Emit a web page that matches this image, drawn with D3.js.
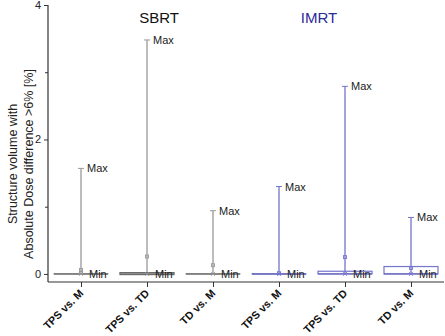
<!DOCTYPE html>
<html><head><meta charset="utf-8">
<script src="https://cdn.jsdelivr.net/npm/d3@7"></script>
<style>body{margin:0;background:#fff}svg{display:block}text{font-family:"Liberation Sans",Arial,sans-serif}</style>
</head><body><svg id="c" width="445" height="336"></svg>
<script>
const categories = ["TPS vs. M","TPS vs. TD","TD vs. M","TPS vs. M","TPS vs. TD","TD vs. M"];
const groups = ["SBRT","SBRT","SBRT","IMRT","IMRT","IMRT"];
const groupTitles = ["SBRT","IMRT"];
const maxVals = [1.57, 3.48, 0.94, 1.30, 2.79, 0.84];
const meanVals = [0.06, 0.26, 0.13, 0.01, 0.25, 0.09];
const extraVals = [0.02, null, null, null, null, null];
const q1Vals = [0, 0, 0, 0, 0, 0];
const q3Vals = [0, 0.01, 0, 0, 0.04, 0.11];
const medianVals = [0, 0, 0, 0, 0, 0];
const minVals = [0, 0, 0, 0, 0, 0];
const yMajorTicks = [0, 2, 4];
const yMinorTicks = [1, 3];
const yLabelLines = ["Structure volume with", "Absolute Dose difference >6% [%]"];

const svg = d3.select("#c");
const color = {SBRT: "#999999", IMRT: "#7575cc"};
const dark = {SBRT: "#6a6a6a", IMRT: "#5a5ab8"};
const titleColor = {SBRT: "#111", IMRT: "#2a2a9a"};

const y = d3.scaleLinear().domain([-0.12, 4]).range([282, 5]);
const x = d3.scalePoint().domain(d3.range(categories.length)).range([81, 411]);
const boxW = 54;

// axes
const yAxis = d3.axisLeft(y).tickValues(yMajorTicks).tickSize(4).tickPadding(3).tickFormat(d3.format("d"));
const gy = svg.append("g").attr("transform","translate(48,0)").call(yAxis);
gy.select(".domain").remove();
gy.selectAll(".tick line").attr("stroke","#333");
gy.selectAll(".tick text").attr("font-size",11).attr("fill","#222");
svg.append("g").attr("transform","translate(48,0)")
  .call(d3.axisLeft(y).tickValues(yMinorTicks).tickSize(3).tickFormat(""))
  .call(g=>g.select(".domain").remove()).selectAll("line").attr("stroke","#333");
svg.append("line").attr("x1",48).attr("x2",48).attr("y1",y(4)).attr("y2",282).attr("stroke","#333").attr("stroke-width",1.2);
svg.append("line").attr("x1",48).attr("x2",444).attr("y1",282).attr("y2",282).attr("stroke","#333").attr("stroke-width",1.2);

const xAxis = d3.axisBottom(x).tickSize(5).tickFormat("");
const gx = svg.append("g").attr("transform","translate(0,282)").call(xAxis);
gx.select(".domain").remove();
gx.selectAll(".tick line").attr("stroke","#333");

// x labels rotated
categories.forEach((c,i)=>{
  svg.append("text").attr("transform",`translate(${x(i)+3},${294}) rotate(-45)`)
    .attr("text-anchor","end").attr("font-size",10.8).attr("font-weight","bold").attr("fill","#111").text(c);
});

// y label
const yl = svg.append("text").attr("transform","translate(0,164) rotate(-90)").attr("text-anchor","middle").attr("font-size",12.5).attr("fill","#222");
yLabelLines.forEach((t,i)=> yl.append("tspan").attr("x",0).attr("y",17 + i*16).text(t));

// group titles
svg.append("text").attr("x",159).attr("y",23).attr("text-anchor","middle").attr("font-size",15).attr("fill",titleColor.SBRT).text(groupTitles[0]);
svg.append("text").attr("x",319).attr("y",23).attr("text-anchor","middle").attr("font-size",15).attr("fill",titleColor.IMRT).text(groupTitles[1]);

// boxes
categories.forEach((c,i)=>{
  const g = groups[i], col = color[g], cx = x(i);
  const g0 = svg.append("g");
  g0.append("line").attr("x1",cx).attr("x2",cx).attr("y1",y(minVals[i])).attr("y2",y(maxVals[i])).attr("stroke",col).attr("stroke-width",1.3);
  const h = y(q1Vals[i]) - y(q3Vals[i]);
  if (h > 2) {
    g0.append("rect").attr("x",cx-boxW/2).attr("y",y(q3Vals[i])).attr("width",boxW).attr("height",h)
      .attr("fill","none").attr("stroke",col).attr("stroke-width",1.2);
  } else {
    g0.append("rect").attr("x",cx-boxW/2).attr("y",y(q3Vals[i])-0.6).attr("width",boxW).attr("height",Math.max(h,0)+1.2)
      .attr("fill","none").attr("stroke",dark[g]).attr("stroke-width",h>0?1.3:0.6);
  }
  g0.append("line").attr("x1",cx-boxW/2).attr("x2",cx+boxW/2).attr("y1",y(medianVals[i])).attr("y2",y(medianVals[i])).attr("stroke",dark[g]).attr("stroke-width",1);
  g0.append("line").attr("x1",cx-3).attr("x2",cx+3).attr("y1",y(maxVals[i])).attr("y2",y(maxVals[i])).attr("stroke",col).attr("stroke-width",1);
  g0.append("path").attr("d",`M${cx-2},${y(minVals[i])-2}L${cx+2},${y(minVals[i])+2}M${cx-2},${y(minVals[i])+2}L${cx+2},${y(minVals[i])-2}`).attr("stroke",col).attr("stroke-width",0.8);
  g0.append("rect").attr("x",cx-1.5).attr("y",y(meanVals[i])-1.5).attr("width",3).attr("height",3).attr("fill","none").attr("stroke",col).attr("stroke-width",0.9);
  if (extraVals[i] !== null) {
    g0.append("rect").attr("x",cx-1.5).attr("y",y(extraVals[i])-1.5).attr("width",3).attr("height",3).attr("fill","none").attr("stroke",col).attr("stroke-width",0.9);
  }
  g0.append("text").attr("x",cx+6).attr("y",y(maxVals[i])+4).attr("font-size",11).attr("fill","#222").text("Max");
  g0.append("text").attr("x",cx+8).attr("y",y(minVals[i])+4).attr("font-size",11).attr("fill","#222").text("Min");
});
</script></body></html>
